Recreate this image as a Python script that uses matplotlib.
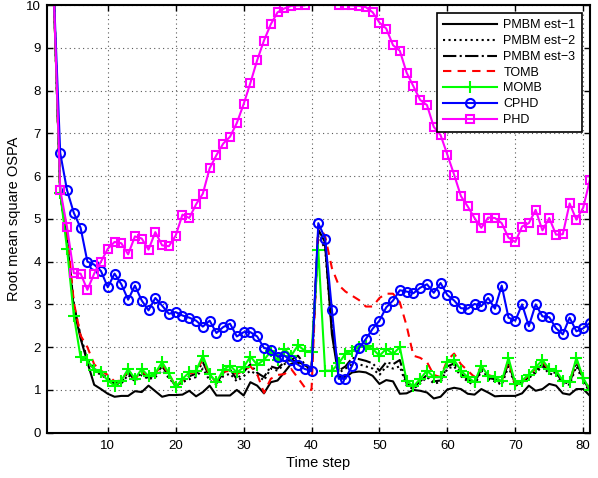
import matplotlib
matplotlib.use("Agg")
import matplotlib.pyplot as plt
import numpy as np

plt.rcParams['font.family'] = ['Liberation Sans', 'DejaVu Sans']

# time steps 2..81 (values above 10 are clipped by the axis, as in the original)
steps = list(range(2, 82))

pmbm_est1 = [10.5, 5.6, 4.5, 2.9, 2.2, 1.65, 1.12, 1.02, 0.91, 0.84,
             0.86, 0.86, 0.97, 0.95, 1.10, 0.97, 0.84, 0.88, 0.88, 0.89,
             0.98, 0.85, 0.95, 1.10, 0.87, 0.87, 0.87, 1.00, 0.87, 1.18,
             1.10, 0.92, 1.18, 1.22, 1.41, 1.61, 1.66, 1.58, 1.47, 4.75,
             4.45, 2.30, 1.30, 1.30, 1.41, 1.43, 1.41, 1.33, 1.14, 1.23,
             1.20, 0.91, 0.92, 1.00, 0.98, 0.94, 0.80, 0.84, 1.01, 1.05,
             1.02, 0.91, 0.89, 1.02, 0.94, 0.85, 0.86, 0.86, 0.86, 0.92,
             1.10, 0.98, 1.02, 1.14, 1.10, 0.92, 0.89, 1.02, 1.02, 0.86]

pmbm_est2 = [10.5, 5.6, 4.5, 3.0, 2.25, 1.7, 1.45, 1.35, 1.25, 1.12,
             1.15, 1.35, 1.2, 1.35, 1.25, 1.3, 1.45, 1.28, 1.1, 1.18,
             1.25, 1.3, 1.5, 1.22, 1.12, 1.32, 1.38, 1.2, 1.32, 1.45,
             1.35, 1.22, 1.5, 1.45, 1.6, 1.72, 1.62, 1.55, 1.45, 4.6,
             4.3, 2.4, 1.4, 1.5, 1.6, 1.6, 1.55, 1.5, 1.35, 1.55,
             1.5, 1.55, 1.1, 1.02, 1.15, 1.3, 1.15, 1.18, 1.5, 1.55,
             1.32, 1.2, 1.1, 1.45, 1.25, 1.2, 1.12, 1.55, 1.1, 1.15,
             1.28, 1.4, 1.55, 1.38, 1.35, 1.15, 1.12, 1.55, 1.2, 0.95]

pmbm_est3 = [10.5, 5.6, 4.5, 3.0, 2.25, 1.7, 1.5, 1.38, 1.28, 1.15,
             1.18, 1.42, 1.22, 1.42, 1.28, 1.35, 1.55, 1.33, 1.08, 1.2,
             1.32, 1.38, 1.65, 1.3, 1.15, 1.4, 1.48, 1.25, 1.42, 1.6,
             1.4, 1.3, 1.55, 1.5, 1.65, 1.7, 1.8, 1.6, 1.5, 4.7,
             4.4, 2.5, 1.45, 1.55, 1.75, 1.72, 1.68, 1.62, 1.45, 1.65,
             1.6, 1.7, 1.15, 1.05, 1.2, 1.35, 1.2, 1.22, 1.55, 1.62,
             1.38, 1.25, 1.15, 1.5, 1.28, 1.25, 1.15, 1.65, 1.12, 1.18,
             1.3, 1.45, 1.6, 1.42, 1.4, 1.18, 1.15, 1.65, 1.25, 0.98]

tomb = [10.5, 5.6, 4.7, 3.05, 2.27, 2.0, 1.6, 1.45, 1.35, 1.2,
        1.22, 1.45, 1.25, 1.45, 1.3, 1.38, 1.6, 1.38, 1.08, 1.22,
        1.38, 1.42, 1.72, 1.35, 1.18, 1.42, 1.45, 1.37, 1.45, 1.55,
        1.37, 0.93, 1.26, 1.35, 1.37, 1.49, 1.28, 1.06, 1.0, 4.85,
        4.6, 3.85, 3.45, 3.3, 3.2, 3.1, 2.95, 2.95, 3.15, 3.25,
        3.25, 3.05, 2.5, 1.8, 1.75, 1.65, 1.35, 1.3, 1.7, 1.85,
        1.6, 1.45, 1.3, 1.55, 1.35, 1.3, 1.2, 1.7, 1.1, 1.2,
        1.35, 1.5, 1.68, 1.45, 1.45, 1.2, 1.2, 1.7, 1.3, 1.0]

momb = [10.5, 5.6, 4.3, 2.74, 1.76, 1.69, 1.47, 1.41, 1.22, 1.10,
        1.22, 1.49, 1.26, 1.49, 1.32, 1.39, 1.65, 1.39, 1.06, 1.26,
        1.41, 1.45, 1.80, 1.37, 1.18, 1.47, 1.57, 1.41, 1.53, 1.78,
        1.59, 1.70, 1.90, 1.69, 1.96, 1.80, 2.04, 1.92, 1.88, 4.26,
        1.45, 1.45, 1.62, 1.85, 1.92, 2.00, 2.02, 1.96, 1.80, 1.96,
        1.84, 2.00, 1.22, 1.08, 1.26, 1.45, 1.30, 1.30, 1.65, 1.70,
        1.45, 1.30, 1.18, 1.57, 1.33, 1.30, 1.20, 1.75, 1.15, 1.22,
        1.36, 1.53, 1.70, 1.49, 1.45, 1.22, 1.18, 1.75, 1.28, 1.00]

cphd = [10.5, 6.54, 5.67, 5.14, 4.79, 4.00, 3.93, 3.78, 3.40, 3.72,
        3.47, 3.11, 3.44, 3.09, 2.86, 3.15, 2.97, 2.78, 2.82, 2.74,
        2.69, 2.62, 2.48, 2.62, 2.33, 2.47, 2.55, 2.25, 2.35, 2.35,
        2.25, 1.98, 1.94, 1.78, 1.80, 1.69, 1.59, 1.49, 1.44, 4.90,
        4.54, 2.88, 1.26, 1.26, 1.57, 1.98, 2.19, 2.43, 2.62, 2.93,
        3.09, 3.33, 3.30, 3.26, 3.39, 3.47, 3.27, 3.50, 3.22, 3.09,
        2.91, 2.90, 3.01, 2.96, 3.15, 2.90, 3.44, 2.69, 2.62, 3.00,
        2.49, 3.00, 2.72, 2.70, 2.44, 2.30, 2.69, 2.37, 2.44, 2.57]

phd = [10.5, 5.68, 4.81, 3.73, 3.72, 3.34, 3.72, 4.00, 4.30, 4.46,
       4.43, 4.17, 4.59, 4.54, 4.28, 4.69, 4.38, 4.36, 4.61, 5.10,
       5.02, 5.34, 5.59, 6.18, 6.49, 6.76, 6.92, 7.24, 7.68, 8.18,
       8.71, 9.17, 9.55, 9.83, 9.92, 9.98, 9.99, 9.99, 10.5, 10.5,
       10.5, 10.5, 10.0, 10.0, 9.99, 9.98, 9.95, 9.83, 9.59, 9.45,
       9.06, 8.93, 8.42, 8.10, 7.78, 7.66, 7.15, 6.96, 6.50, 6.03,
       5.53, 5.29, 5.02, 4.79, 5.03, 5.02, 4.90, 4.56, 4.46, 4.82,
       4.90, 5.21, 4.73, 5.02, 4.63, 4.64, 5.36, 4.98, 5.26, 5.92]

fig = plt.figure(figsize=(5.98, 4.78), dpi=100)
ax = fig.add_axes([0.078, 0.0948, 0.9086, 0.8947])

lw = 1.5
ax.plot(steps, pmbm_est1, color='k', ls='-', lw=lw, label='PMBM est\u22121')
ax.plot(steps, pmbm_est2, color='k', ls=':', lw=lw, label='PMBM est\u22122')
ax.plot(steps, pmbm_est3, color='k', ls='-.', lw=lw, label='PMBM est\u22123')
ax.plot(steps, tomb, color='#ff0000', ls='--', lw=lw, dashes=(4, 3), label='TOMB')
ax.plot(steps, momb, color='#00ff00', ls='-', lw=lw, marker='+', ms=8, mew=1.5, label='MOMB')
ax.plot(steps, cphd, color='#0000ff', ls='-', lw=lw, marker='o', ms=6.5, mew=1.5,
        mfc='none', label='CPHD')
ax.plot(steps, phd, color='#ff00ff', ls='-', lw=lw, marker='s', ms=6, mew=1.5,
        mfc='none', label='PHD')

ax.set_xlim(1, 81)
ax.set_ylim(0, 10)
ax.set_xticks(range(10, 81, 10))
ax.set_yticks(range(0, 11))
ax.grid(True, color='0.35', ls=(0, (1, 3)), lw=0.8)
ax.tick_params(direction='in', length=4, width=1, top=True, right=True,
               labelsize=9.5)
ax.tick_params(axis='x', pad=5)
ax.tick_params(axis='y', pad=4)
for s in ax.spines.values():
    s.set_linewidth(1.5)

ax.set_xlabel('Time step', fontsize=10.5, labelpad=3)
ax.set_ylabel('Root mean square OSPA', fontsize=10.5, labelpad=4)

leg = ax.legend(loc='upper right', bbox_to_anchor=(0.985, 0.981), borderaxespad=0,
                fontsize=9, fancybox=False, framealpha=1, edgecolor='k',
                handlelength=4.3, handletextpad=0.5, labelspacing=0.3,
                borderpad=0.5, numpoints=1)
leg.get_frame().set_linewidth(1.2)

fig.savefig('out.png', dpi=100)
